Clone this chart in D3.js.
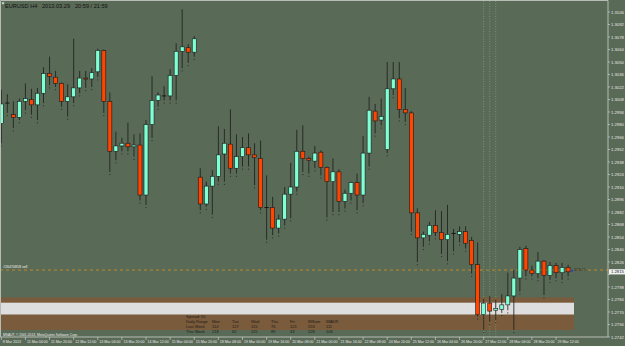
<!DOCTYPE html>
<html>
<head>
<meta charset="utf-8">
<script src="https://cdn.jsdelivr.net/npm/d3@7"></script>
<style>
  html, body { margin: 0; padding: 0; background: #596a57; overflow: hidden; }
  text { font-family: Tahoma, "Liberation Sans", Arial, sans-serif; }
</style>
</head>
<body>
<svg id="chart" width="625" height="346"></svg>
<script>
// EURUSD H4 bars (oldest first)
const opens = [1.2981,1.3004,1.2991,1.2988,1.3006,1.3008,1.3002,1.3015,1.3037,1.3033,
  1.3026,1.3006,1.3011,1.3021,1.3032,1.3031,1.3039,1.3063,1.3006,1.2950,
  1.2956,1.2959,1.2955,1.2957,1.2901,1.2980,1.3007,1.3012,1.3012,1.3035,
  1.3062,1.3066,1.3061,1.2921,1.2891,1.2911,1.2922,1.2947,1.2958,1.2931,
  1.2944,1.2954,1.2946,1.2942,1.2887,1.2887,1.2864,1.2874,1.2902,1.2910,
  1.2950,1.2942,1.2939,1.2949,1.2932,1.2916,1.2927,1.2894,1.2903,1.2915,
  1.2901,1.2948,1.2995,1.2985,1.2952,1.3020,1.3031,1.2997,1.2993,1.2881,
  1.2853,1.2856,1.2867,1.2859,1.2851,1.2858,1.2857,1.2860,1.2850,1.2823,
  1.2767,1.2780,1.2772,1.2773,1.2778,1.2788,1.2808,1.2841,1.2817,1.2813,
  1.2827,1.2811,1.2822,1.2814,1.2820];
const highs = [1.3019,1.3014,1.3006,1.3009,1.3026,1.3020,1.3021,1.3044,1.3056,1.3040,
  1.3027,1.3025,1.3076,1.3040,1.3040,1.3043,1.3065,1.3064,1.3016,1.2972,
  1.2965,1.2982,1.2969,1.2970,1.2985,1.3034,1.3016,1.3023,1.3042,1.3071,
  1.3109,1.3070,1.3079,1.2931,1.2916,1.2929,1.2978,1.2975,1.2997,1.2969,
  1.2966,1.2970,1.2959,1.2962,1.2923,1.2899,1.2879,1.2910,1.2937,1.2974,
  1.2979,1.2944,1.2956,1.2951,1.2933,1.2942,1.2930,1.2907,1.2916,1.2925,
  1.2967,1.3011,1.3003,1.3009,1.3050,1.3050,1.3050,1.3021,1.2995,1.2886,
  1.2860,1.2871,1.2884,1.2883,1.2890,1.2863,1.2866,1.2866,1.2854,1.2848,
  1.2785,1.2788,1.2784,1.2790,1.2814,1.2817,1.2843,1.2844,1.2822,1.2837,
  1.2828,1.2826,1.2825,1.2825,1.2823];
const lows = [1.2959,1.2993,1.2976,1.2985,1.2996,1.2991,1.2985,1.3004,1.3024,1.3022,
  1.3000,1.2989,1.3004,1.3015,1.3021,1.3022,1.3033,1.2993,1.2927,1.2940,
  1.2950,1.2950,1.2944,1.2895,1.2890,1.2965,1.3000,1.3007,1.3007,1.3007,
  1.3043,1.3049,1.3056,1.2884,1.2888,1.2879,1.2916,1.2916,1.2925,1.2925,
  1.2933,1.2933,1.2912,1.2884,1.2851,1.2856,1.2858,1.2867,1.2875,1.2905,
  1.2927,1.2925,1.2931,1.2923,1.2876,1.2882,1.2882,1.2886,1.2895,1.2884,
  1.2892,1.2933,1.2970,1.2979,1.2948,1.3013,1.2987,1.2983,1.2860,1.2826,
  1.2843,1.2849,1.2855,1.2835,1.2827,1.2838,1.2848,1.2841,1.2813,1.2765,
  1.2750,1.2759,1.2761,1.2769,1.2772,1.2750,1.2793,1.2810,1.2810,1.2808,
  1.2789,1.2806,1.2808,1.2806,1.2810];
const closes = [1.3003,1.3004,1.2988,1.3006,1.3009,1.3002,1.3015,1.3037,1.3034,1.3026,
  1.3006,1.3011,1.3021,1.3032,1.3031,1.3038,1.3063,1.3006,1.2950,1.2956,
  1.2959,1.2955,1.2957,1.2901,1.2980,1.3007,1.3013,1.3012,1.3035,1.3062,
  1.3067,1.3061,1.3076,1.2891,1.2911,1.2922,1.2946,1.2959,1.2931,1.2944,
  1.2954,1.2946,1.2943,1.2887,1.2887,1.2864,1.2874,1.2902,1.2910,1.2950,
  1.2942,1.2940,1.2948,1.2932,1.2916,1.2927,1.2894,1.2903,1.2915,1.2901,
  1.2948,1.2996,1.2984,1.2989,1.3020,1.3031,1.2997,1.2993,1.2881,1.2853,
  1.2857,1.2867,1.2859,1.2851,1.2857,1.2858,1.2860,1.2847,1.2823,1.2767,
  1.2780,1.2771,1.2774,1.2778,1.2788,1.2808,1.2840,1.2817,1.2813,1.2827,
  1.2811,1.2822,1.2814,1.2820,1.2815];

// time axis labels, one every 4 bars
const timeLabels = ["8 Mar 2013","11 Mar 04:00","11 Mar 20:00","12 Mar 12:00","13 Mar 04:00",
  "13 Mar 20:00","14 Mar 12:00","15 Mar 04:00","15 Mar 20:00","18 Mar 08:00","19 Mar 00:00",
  "19 Mar 16:00","20 Mar 08:00","21 Mar 00:00","21 Mar 16:00","22 Mar 08:00","24 Mar 20:00",
  "25 Mar 12:00","26 Mar 04:00","26 Mar 20:00","27 Mar 12:00","28 Mar 04:00","28 Mar 20:00",
  "29 Mar 12:00"];
const priceTicks = [1.3106,1.3092,1.3078,1.3064,1.3050,1.3036,1.3022,1.3008,1.2994,1.2980,
  1.2966,1.2952,1.2938,1.2924,1.2910,1.2896,1.2882,1.2868,1.2854,1.2840,
  1.2826,1.2812,1.2798,1.2784,1.2770,1.2756,1.2742];

const bidPrice = 1.2815;
const orderPrice = 1.2817;
const orderLabel = "#26470818 sell";
const markerBars = [80, 81, 82];

const tableHeader = ["Daily Range","Mon","Tue","Wed","Thu","Fri","WSum","WADR"];
const lastWeek = ["Last Week","114","127","115","76","121","553","111"];
const thisWeek = ["This Week","218","62","115","89","43","528","106"];

const svg = d3.select('#chart');
const W = 625, H = 346;
const plotR = 608, plotB = 337;

const x = d3.scaleLinear().domain([0, 94]).range([1.3, 568.1]);
const y = d3.scaleLinear().domain([1.2742, 1.3106]).range([337, 12]);

svg.append('rect').attr('width', W).attr('height', H).attr('fill', '#596a57');

// range zone band behind the bars
svg.append('rect').attr('x', 0).attr('y', 297.5).attr('width', 574).attr('height', 32.5).attr('fill', '#7a5b3b');
svg.append('rect').attr('x', 0).attr('y', 302.7).attr('width', 574).attr('height', 11.8).attr('fill', '#dedede');

// vertical dotted markers
markerBars.forEach(i => {
  svg.append('line').attr('x1', x(i)).attr('x2', x(i)).attr('y1', 1).attr('y2', plotB)
    .attr('stroke', '#86b47a').attr('stroke-width', 0.6).attr('stroke-dasharray', '1,1.5');
});

// order line
svg.append('line').attr('x1', 0).attr('x2', plotR).attr('y1', y(orderPrice)).attr('y2', y(orderPrice))
  .attr('stroke', '#c08a28').attr('stroke-width', 1).attr('stroke-dasharray', '3,3');
svg.append('text').attr('x', 3).attr('y', y(orderPrice) - 2).attr('fill', '#f0f0f0')
  .style('font-size', '3.6px').text(orderLabel);

// candles
const bars = d3.range(opens.length).map(i => ({i, o: opens[i], h: highs[i], l: lows[i], c: closes[i]}));
const g = svg.append('g');
g.selectAll('.wick').data(bars).join('line')
  .attr('x1', d => x(d.i)).attr('x2', d => x(d.i))
  .attr('y1', d => y(d.h)).attr('y2', d => y(d.l))
  .attr('stroke', '#1c1c1c').attr('stroke-width', 0.8);
g.selectAll('.dot').data(bars).join('rect')
  .attr('x', d => x(d.i) - 0.5).attr('y', d => y(d.l) + 2.2)
  .attr('width', 1).attr('height', 1).attr('fill', '#2a2a2a');
g.selectAll('.body').data(bars.filter(d => d.c !== d.o)).join('rect')
  .attr('x', d => x(d.i) - 2).attr('width', 4)
  .attr('y', d => y(Math.max(d.o, d.c)))
  .attr('height', d => Math.max(1, Math.abs(y(d.o) - y(d.c))))
  .attr('fill', d => d.c > d.o ? '#7fffd4' : '#ff4500')
  .attr('stroke', '#1a1a1a').attr('stroke-width', 0.6);
g.selectAll('.doji').data(bars.filter(d => d.c === d.o)).join('line')
  .attr('x1', d => x(d.i) - 2.2).attr('x2', d => x(d.i) + 2.2)
  .attr('y1', d => y(d.o)).attr('y2', d => y(d.o))
  .attr('stroke', '#111').attr('stroke-width', 0.9);

// table text over the band
const colX = [186, 212, 232, 251, 271, 290, 308, 326];
svg.append('text').attr('x', 186).attr('y', 318.3).attr('fill', '#1a1a1a').style('font-size', '4px').text('Spread: 50');
[[tableHeader, 323.3], [lastWeek, 328], [thisWeek, 332.6]].forEach(([row, yy]) => {
  row.forEach((t, k) => {
    svg.append('text').attr('x', colX[k]).attr('y', yy).attr('fill', '#1a1a1a').style('font-size', '4px').text(t);
  });
});

// frame
svg.append('path').attr('d', `M0.5,${plotB}V0.5H${plotR}V${plotB}H0.5`)
  .attr('fill', 'none').attr('stroke', '#b8bcb4').attr('stroke-width', 1);

// price axis (labels hidden where the bid box sits)
priceTicks.forEach(p => {
  svg.append('line').attr('x1', plotR).attr('x2', plotR + 2).attr('y1', y(p)).attr('y2', y(p)).attr('stroke', '#d8d8d8').attr('stroke-width', 0.6);
  if (Math.abs(y(p) - y(bidPrice)) < 6) return;
  svg.append('text').attr('x', plotR + 3).attr('y', y(p) + 1.5).attr('fill', '#e8e8e8').style('font-size', '4.2px').text(p.toFixed(4));
});
svg.append('rect').attr('x', plotR + 1).attr('y', y(bidPrice) - 2.6).attr('width', 16).attr('height', 5.2).attr('fill', '#f2f2f2');
svg.append('text').attr('x', plotR + 3).attr('y', y(bidPrice) + 1.5).attr('fill', '#222').style('font-size', '4.2px').text(bidPrice.toFixed(4));

// bar timer beside the last bar
svg.append('rect').attr('x', 571).attr('y', y(orderPrice) - 0.5).attr('width', 2).attr('height', 2).attr('fill', '#2040d0');
svg.append('text').attr('x', 574).attr('y', y(orderPrice) + 1.4).attr('fill', '#222').style('font-size', '3.8px').text('203:21');

// time axis
timeLabels.forEach((t, k) => {
  const xx = x(k * 4);
  svg.append('line').attr('x1', xx).attr('x2', xx).attr('y1', plotB).attr('y2', plotB + 3).attr('stroke', '#d8d8d8').attr('stroke-width', 0.6);
  svg.append('text').attr('x', xx + 1.5).attr('y', 343.3).attr('fill', '#e8e8e8').style('font-size', '3.6px').text(t);
});

svg.append('text').attr('x', 3).attr('y', 335.5).attr('fill', '#eeeeee').style('font-size', '3.3px')
  .text('MSAUT, \u00a9 2001-2013, MetaQuotes Software Corp.');

// title
svg.append('path').attr('d', 'M1.5,2.5L4.5,2.5L3,4.5Z').attr('fill', '#ffffff');
svg.append('text').attr('x', 5).attr('y', 7.6).attr('fill', '#111').style('font-size', '5.6px')
  .text('EURUSD H4');
svg.append('text').attr('x', 42).attr('y', 7.6).attr('fill', '#111').style('font-size', '5.6px')
  .text('2013.03.29');
svg.append('text').attr('x', 75).attr('y', 7.6).attr('fill', '#111').style('font-size', '5.6px')
  .text('20:59 / 21:59');
</script>
</body>
</html>
